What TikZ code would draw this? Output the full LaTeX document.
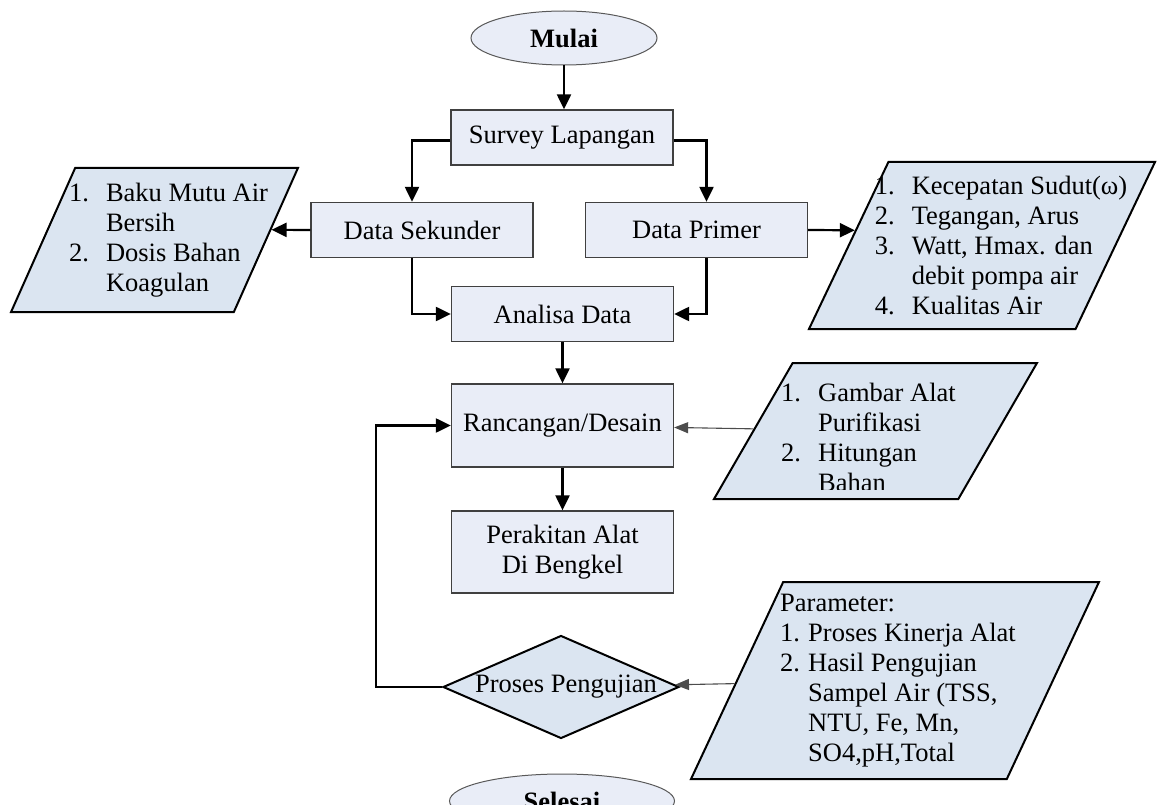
\documentclass[tikz,border=0pt]{standalone}
\usepackage{fontspec}
\setmainfont{Liberation Serif}
\usetikzlibrary{shapes.geometric,arrows.meta,positioning,calc}

\definecolor{isikotak}{HTML}{E9EDF7}
\definecolor{isijajar}{HTML}{DBE5F1}
\newcommand{\butir}[2][37pt]{\makebox[#1][l]{#2}}
\newcommand{\lanjut}[1][37pt]{\hspace*{#1}}

\tikzset{
  teks/.style={font=\fontsize{26.5}{30}\selectfont},
  kotak/.style={teks, rectangle, draw=black!75, line width=1.3pt, fill=isikotak, minimum width=222pt, minimum height=55pt, align=center, inner sep=0pt},
  ujung/.style={ellipse, draw=black!65, line width=1pt, fill=isikotak, minimum height=54pt, inner sep=0pt, font=\fontsize{26.5}{30}\selectfont\bfseries},
  jajar/.style={trapezium, trapezium stretches=true, draw=black, line width=2pt, fill=isijajar, inner sep=2pt},
  putusan/.style={diamond, draw=black, line width=2pt, fill=isijajar, minimum width=236pt, minimum height=103pt, inner sep=2pt},
  daftar/.style={teks, align=left, inner sep=0pt},
  panah/.style={line width=2.2pt, -{Triangle[length=15pt,width=14pt]}},
  panahtipis/.style={draw=black!70, line width=1.1pt, -{Triangle[length=14pt,width=11pt]}}
}

\begin{document}
\begin{tikzpicture}[x=1pt, y=-1pt]
  \useasboundingbox (0,0) rectangle (1157,805);
  \clip (0,0) rectangle (1157,805);

  \node[ujung, minimum width=186pt] (Mulai) at (564,38) {Mulai};
  \node[kotak] (Survey) at (562,137.5) {Survey Lapangan};
  \node[kotak] (DS) at (422,230) {Data Sekunder};
  \node[kotak] (DP) at (696.5,230) {Data Primer};
  \node[kotak] (Analisa) at (562.5,314) {Analisa Data};
  \node[kotak, minimum height=83pt] (Rancangan) at (562.5,425.5) {Rancangan/Desain};
  \node[kotak, minimum height=82pt] (Perakitan) at (562.5,552) {Perakitan Alat\\Di Bengkel};
  \node[putusan] (Uji) at (561,687) {};
  \node[teks, inner sep=0pt] (UjiT) at ([xshift=5pt]Uji.center) {Proses Pengujian};
  \node[ujung, minimum width=225pt] (Selesai) at (562,801) {Selesai};

  \node[jajar, trapezium left angle=68, trapezium right angle=112,
    minimum width=287pt, minimum height=144pt] (Lpara) at (154.5,240) {};
  \node[daftar] (LparaT) at ([xshift=14pt]Lpara.center)
    {\butir{1.}Baku Mutu Air\\\lanjut Bersih\\\butir{2.}Dosis Bahan\\\lanjut Koagulan};

  \node[jajar, trapezium left angle=67, trapezium right angle=113,
    minimum width=346pt, minimum height=167pt] (Rpara) at (982,245.5) {};
  \node[daftar] (RparaT) at ([xshift=19pt]Rpara.center)
    {\butir{1.}Kecepatan Sudut(ω)\\\butir{2.}Tegangan, Arus\\\butir{3.}Watt, Hmax. dan\\\lanjut debit pompa air\\\butir{4.}Kualitas Air};

  \node[jajar, trapezium left angle=64.6, trapezium right angle=115.4,
    minimum width=323pt, minimum height=136pt] (Gambar) at (875.5,431) {};
  \begin{scope}
    \clip (Gambar.bottom left corner |- Gambar.north) rectangle ([yshift=11pt]Gambar.bottom right corner);
    \node[daftar] (GambarT) at ([xshift=-7pt,yshift=-6pt]Gambar.center)
      {\butir{1.}Gambar Alat\\\lanjut Purifikasi\\\butir{2.}Hitungan\\\lanjut Bahan};
  \end{scope}

  \node[jajar, trapezium left angle=67.6, trapezium right angle=112.4,
    minimum width=408pt, minimum height=197pt] (Param) at (895,680.5) {};
  \node[daftar] (ParamT) at ([xshift=3pt]Param.center)
    {Parameter:\\\butir[28pt]{1.}Proses Kinerja Alat\\\butir[28pt]{2.}Hasil Pengujian\\\lanjut[28pt]Sampel Air (TSS,\\\lanjut[28pt]NTU, Fe, Mn,\\\lanjut[28pt]SO4,pH,Total};

  \coordinate[left=66pt of Uji.west] (balik);

  \path[panah]
  (Mulai) edge (Mulai |- Survey.north)
  (Analisa) edge (Rancangan)
  (Rancangan) edge (Perakitan)
  ;
  \draw[panah] ([yshift=-3pt]Survey.west) -| ([xshift=-10pt]DS.north);
  \draw[panah] ([yshift=-3pt]Survey.east) -| ([xshift=10pt]DP.north);
  \draw[panah] ([xshift=-10pt]DS.south) |- (Analisa.west);
  \draw[panah] ([xshift=10pt]DP.south) |- (Analisa.east);
  \draw[panah] (DS.west) -- ($(Lpara.bottom right corner)!0.57!(Lpara.top right corner)$);
  \draw[panah] (DP.east) -- ($(Rpara.bottom left corner)!0.59!(Rpara.top left corner)$);
  \draw[panah] (Uji.west) -- (balik) |- (Rancangan.west);
  \draw[panahtipis] (Gambar) -- (Rancangan);
  \draw[panahtipis] (Param) -- (Uji);
\end{tikzpicture}
\end{document}
